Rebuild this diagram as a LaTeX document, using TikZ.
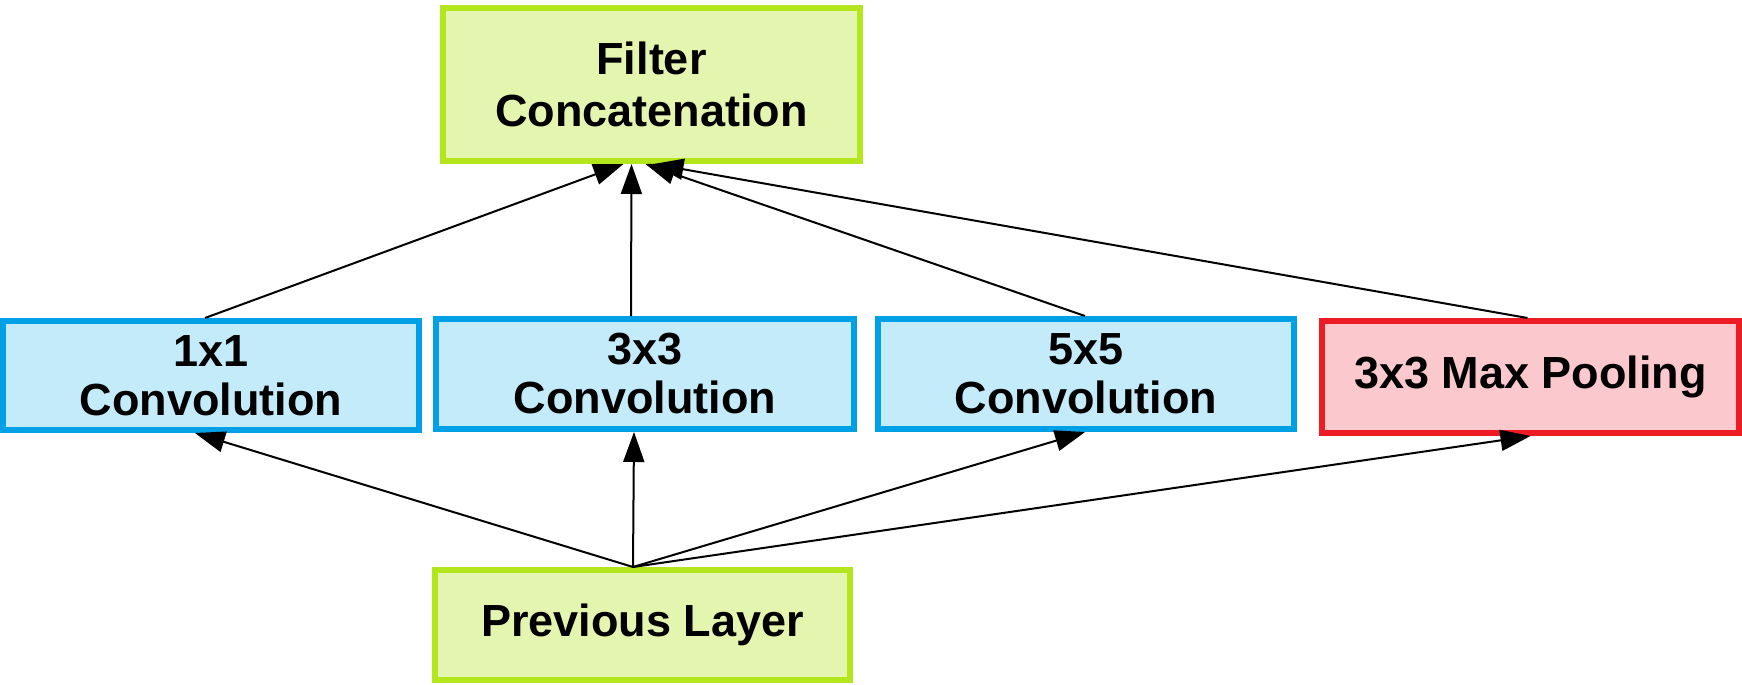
\documentclass[tikz,border=0pt]{standalone}
\usepackage{fontspec}
\setmainfont{Liberation Sans}
\usetikzlibrary{arrows.meta,calc}
\definecolor{gborder}{RGB}{180,230,30}
\definecolor{gfill}{RGB}{228,245,175}
\definecolor{bborder}{RGB}{0,160,230}
\definecolor{bfill}{RGB}{195,235,250}
\definecolor{rborder}{RGB}{237,28,36}
\definecolor{rfill}{RGB}{250,200,205}
\tikzset{
  box/.style={rectangle, line width=3pt, align=center, inner sep=0pt,
    font=\fontsize{22.5}{24.5}\selectfont\bfseries},
  greenbox/.style={box, draw=gborder, fill=gfill},
  bluebox/.style={box, draw=bborder, fill=bfill},
  redbox/.style={box, draw=rborder, fill=rfill},
  conn/.style={line width=1pt, -{Triangle[length=15pt,width=10.5pt]}}
}
\begin{document}
\begin{tikzpicture}[x=0.5pt,y=-0.5pt]
\fill[white] (0,0) rectangle (1742,685);
\useasboundingbox (0,0) rectangle (1742,685);
\node[greenbox, minimum width=208.5pt, minimum height=76.5pt,
      font=\fontsize{22.5}{26}\selectfont\bfseries] (fc) at (651.5,84.5) {Filter\\Concatenation};
\node[bluebox, minimum width=208pt, minimum height=54.5pt] (c1) at (211,375.5) {1x1\\Convolution};
\node[bluebox, minimum width=209pt, minimum height=55pt] (c3) at (645,374) {3x3\\Convolution};
\node[bluebox, minimum width=208pt, minimum height=55pt] (c5) at (1086,374) {5x5\\Convolution};
\node[redbox, minimum width=208.5pt, minimum height=56pt] (mp) at (1530.5,377) {3x3 Max Pooling};
\node[greenbox, minimum width=207.5pt, minimum height=55pt] (pl) at (642.5,625) {Previous Layer};
% bottom arrows
\coordinate (src) at ($(pl.north)+(-9.5,0)$);
\draw[conn] (src) -- ($(c1.south)+(-16,0)$);
\draw[conn] (src) -- ($(c3.south)+(-11,0)$);
\draw[conn] (src) -- ($(c5.south)+(-1,0)$);
\draw[conn] (src) -- ($(mp.south)+(0,0)$);
% top arrows
\draw[conn] ($(c1.north)+(-6,0)$) -- ($(fc.south)+(-28,0)$);
\draw[conn] ($(c3.north)+(-14,0)$) -- ($(fc.south)+(-20,0)$);
\draw[conn] ($(c5.north)+(-1,0)$) -- ($(fc.south)+(-6,0)$);
\draw[conn] ($(mp.north)+(-3,0)$) -- ($(fc.south)+(2,0)$);
\end{tikzpicture}
\end{document}
